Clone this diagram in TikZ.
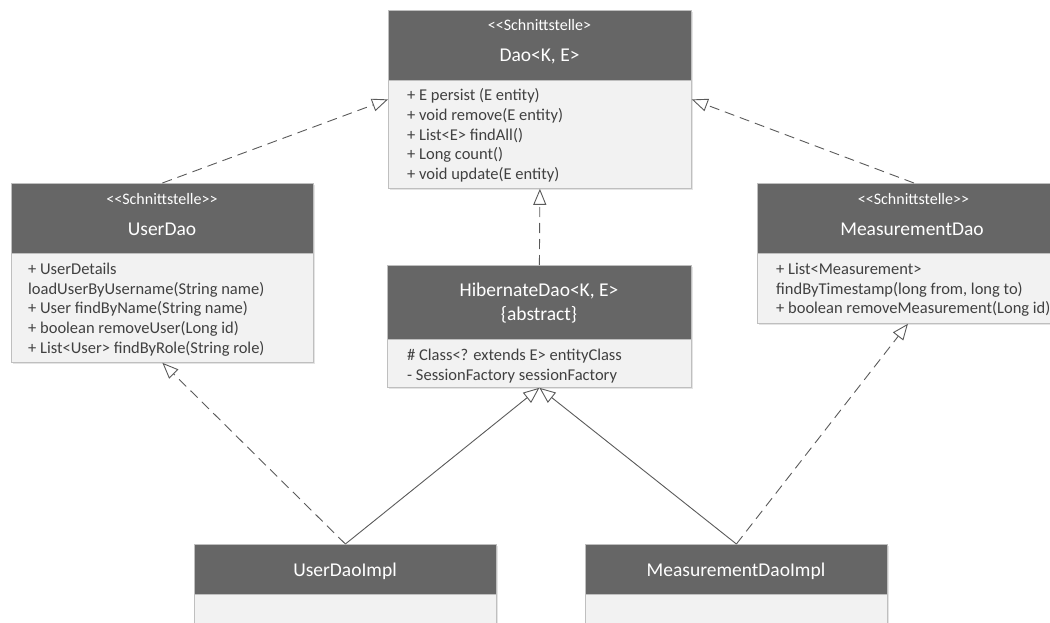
\documentclass[tikz,border=0pt]{standalone}
\usepackage{fontspec}
\setmainfont{Carlito}[Ligatures=TeXOff]
\usetikzlibrary{arrows.meta,shadows,calc}

\definecolor{hdrgray}{HTML}{666666}
\definecolor{bodygray}{HTML}{F2F2F2}
\definecolor{framegray}{HTML}{BFBFBF}
\definecolor{txtgray}{HTML}{404040}
\definecolor{linkgray}{HTML}{5A5A5A}

\tikzset{
  classbox/.style 2 args={draw=framegray, fill=bodygray, line width=0.8pt,
    anchor=north west, inner sep=0pt, minimum width=#1, minimum height=#2,
    drop shadow={shadow xshift=2pt, shadow yshift=-2pt, opacity=0.3, fill=black!35}},
  headbox/.style 2 args={draw=framegray, fill=hdrgray, line width=0.8pt,
    anchor=north west, inner sep=0pt, minimum width=#1, minimum height=#2},
  stereo/.style={anchor=base, text=white, inner sep=0pt, font=\fontsize{16}{19}\selectfont},
  cname/.style={anchor=base, text=white, inner sep=0pt, font=\fontsize{19.5}{23}\selectfont},
  member/.style={anchor=base west, text=txtgray, inner sep=0pt, font=\fontsize{16.5}{19.8}\selectfont},
  umltip/.style={-{Triangle[length=16pt, width=13pt, fill=white, line width=0.9pt]}},
  realize/.style={draw=linkgray, line width=0.9pt, dash pattern=on 10pt off 6pt, umltip},
  inherit/.style={draw=linkgray, line width=0.9pt, umltip},
}

\begin{document}
\begin{tikzpicture}[x=1pt, y=-1pt]
\path[use as bounding box] (0,0) rectangle (1050,623);
\clip (0,0) rectangle (1050,623);

% ---- Dao<K, E> interface
\node[classbox={303pt}{178pt}] (dao) at (388,10) {};
\node[headbox={303pt}{70pt}] (dao-head) at (388,10) {};
\node[stereo] (dao-st) at (539.5,31) {<<Schnittstelle>};
\node[cname] (dao-nm) at (539.5,61.7) {Dao<K, E>};
\foreach \t [count=\i from 0] in {{+ E persist (E entity)}, {+ void remove(E entity)},
    {+ List<E> findAll()}, {+ Long count()}, {+ void update(E entity)}}
  \node[member] (dao-m\i) at (407,100.7+19.7*\i) {\t};

% ---- UserDao interface
\node[classbox={302pt}{179pt}] (udao) at (11,183) {};
\node[headbox={302pt}{70pt}] (udao-head) at (11,183) {};
\node[stereo] (udao-st) at (162,204.3) {<<Schnittstelle>>};
\node[cname] (udao-nm) at (162,235.7) {UserDao};
\foreach \t [count=\i from 0] in {{+ UserDetails}, {loadUserByUsername(String name)},
    {+ User findByName(String name)}, {+ boolean removeUser(Long id)},
    {+ List<User> findByRole(String role)}}
  \node[member] (udao-m\i) at (28,274.3+19.7*\i) {\t};

% ---- MeasurementDao interface
\node[classbox={313pt}{140pt}] (mdao) at (757,183) {};
\node[headbox={313pt}{70pt}] (mdao-head) at (757,183) {};
\node[stereo] (mdao-st) at (913.5,204.3) {<<Schnittstelle>>};
\node[cname] (mdao-nm) at (912,235.7) {MeasurementDao};
\foreach \t [count=\i from 0] in {{+ List<Measurement>}, {findByTimestamp(long from, long to)},
    {+ boolean removeMeasurement(Long id)}}
  \node[member] (mdao-m\i) at (776,274.3+19.7*\i) {\t};

% ---- HibernateDao abstract class
\node[classbox={304pt}{122pt}] (hdao) at (387,265) {};
\node[headbox={304pt}{74pt}] (hdao-head) at (387,265) {};
\node[cname] (hdao-nm) at (539,296.7) {HibernateDao<K, E>};
\node[cname] (hdao-abs) at (539,320.7) {\{abstract\}};
\node[member] (hdao-m0) at (407,360) {\# Class<? extends E> entityClass};
\node[member] (hdao-m1) at (407,380) {- SessionFactory sessionFactory};

% ---- implementations
\node[classbox={302pt}{120pt}] (uimpl) at (194,544) {};
\node[headbox={302pt}{50pt}] (uimpl-head) at (194,544) {};
\node[cname] (uimpl-nm) at (345,576) {UserDaoImpl};

\node[classbox={302pt}{120pt}] (mimpl) at (585,544) {};
\node[headbox={302pt}{50pt}] (mimpl-head) at (585,544) {};
\node[cname] (mimpl-nm) at (736,576) {MeasurementDaoImpl};

% ---- realizations and generalizations
\draw[realize] (udao.north) -- (dao.west);
\draw[realize] (mdao.north) -- (dao.east);
\draw[realize] (hdao.north) -- (dao.south);
\draw[realize] (uimpl.north) -- (udao.south);
\draw[inherit] (uimpl.north) -- (hdao.south);
\draw[inherit] (mimpl.north) -- (hdao.south);
\draw[realize] (mimpl.north) -- ($(mdao.south)+(-6,0)$);
\end{tikzpicture}
\end{document}
